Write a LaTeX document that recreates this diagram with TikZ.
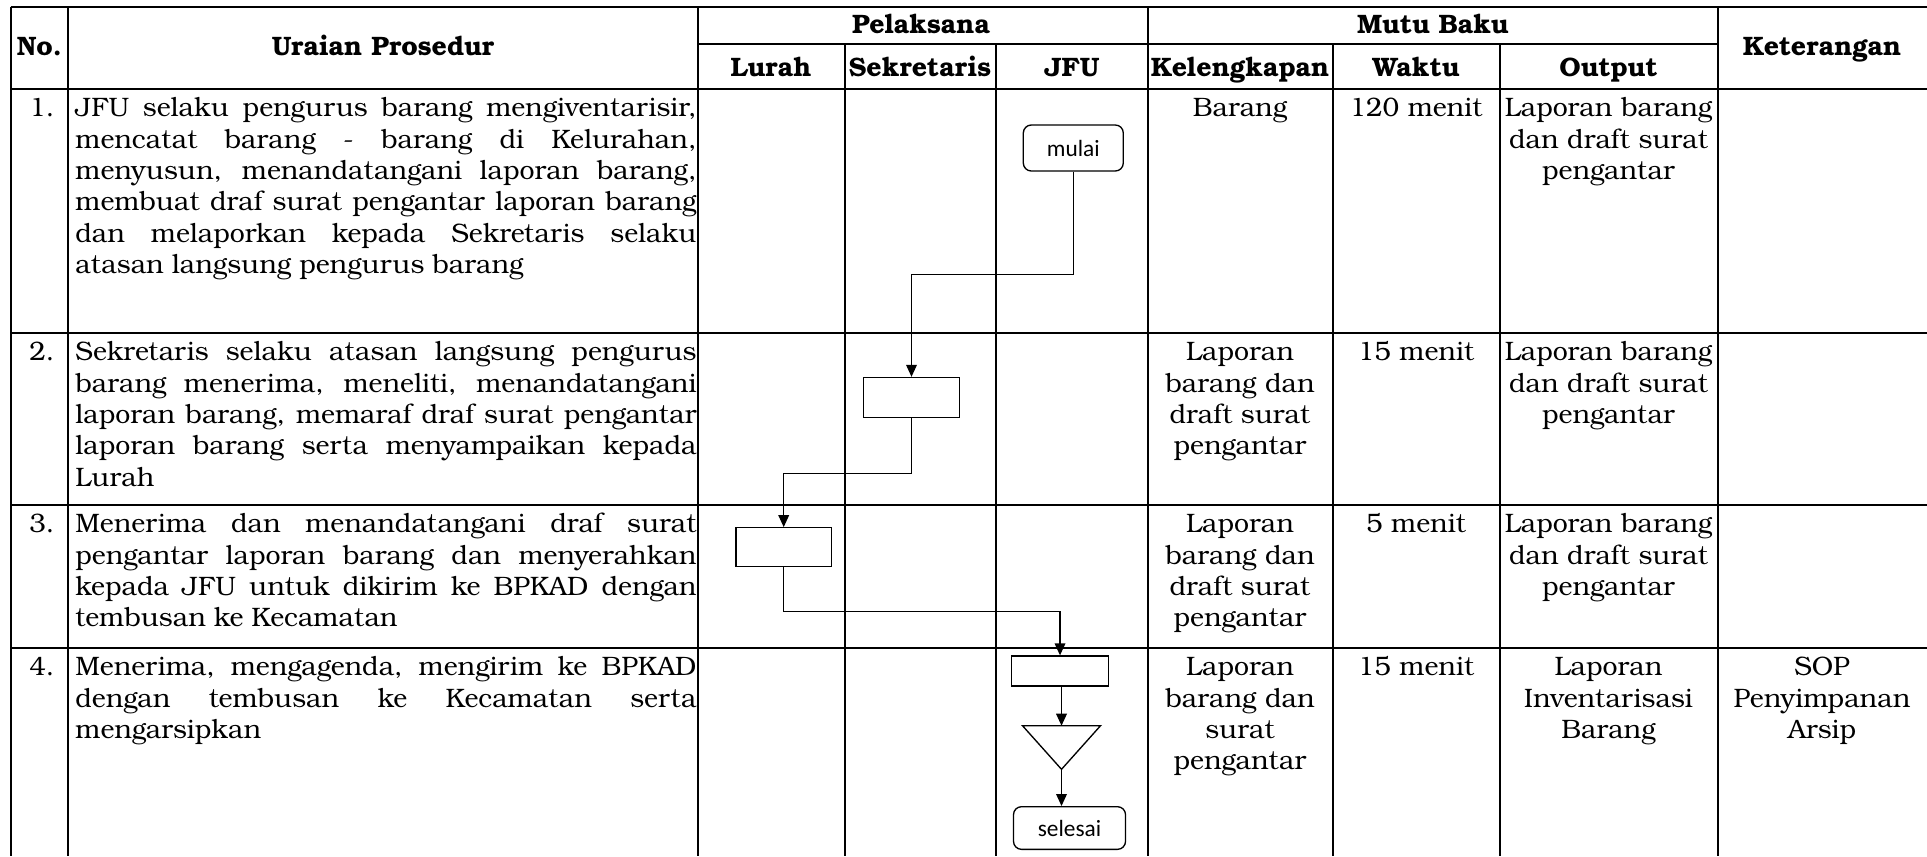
\documentclass[tikz,border=0pt]{standalone}
\usepackage{fontspec}
\setmainfont{TeX Gyre Bonum}
\newfontfamily\flowfont{Carlito}
\usetikzlibrary{arrows.meta}
\tikzstyle{gridline}=[line width=0.9pt]
\tikzstyle{flowline}=[line width=0.6pt]
\tikzstyle{flowarrow}=[flowline,-{Triangle[length=5.4pt,width=4.8pt]}]
\tikzstyle{headtext}=[font=\fontsize{12}{14.1}\selectfont\bfseries,inner sep=0pt,anchor=base]
\tikzstyle{celltext}=[font=\fontsize{12}{14.1}\selectfont,inner sep=0pt,anchor=north,align=center]
\tikzstyle{proctext}=[font=\fontsize{12}{14.1}\selectfont,inner sep=0pt,anchor=north west,text width=279.5pt,align=justify,
	execute at begin node={\hyphenpenalty=10000\relax\exhyphenpenalty=10000\relax\tolerance=10000\relax\spaceskip=.3em plus 1.5em minus .12em\relax}]
\tikzstyle{actbox}=[draw,flowline,minimum width=43.2pt,minimum height=18pt,inner sep=0pt]
\tikzstyle{termbox}=[draw,flowline,rounded corners=3.6pt,font=\flowfont\fontsize{10.5}{12}\selectfont,inner sep=0pt]

\begin{document}
\begin{tikzpicture}[x=0.45pt,y=-0.45pt]
	\useasboundingbox (0,0) rectangle (1927,856);
	\fill[white] (0,0) rectangle (1927,856);
		\draw[gridline] (10.5,7.3) -- (1927,7.3);
		\draw[gridline] (698,44.3) -- (1717.5,44.3);
		\draw[gridline] (10.5,89) -- (1927,89);
		\draw[gridline] (10.5,333) -- (1927,333);
		\draw[gridline] (10.5,505) -- (1927,505);
		\draw[gridline] (10.5,648) -- (1927,648);
		\draw[gridline] (10.5,7.3) -- (10.5,856);
		\draw[gridline] (68.3,7.3) -- (68.3,856);
		\draw[gridline] (698,7.3) -- (698,856);
		\draw[gridline] (844.5,44.3) -- (844.5,856);
		\draw[gridline] (996,44.3) -- (996,856);
		\draw[gridline] (1148,7.3) -- (1148,856);
		\draw[gridline] (1332.5,44.3) -- (1332.5,856);
		\draw[gridline] (1499.5,44.3) -- (1499.5,856);
		\draw[gridline] (1717.5,7.3) -- (1717.5,856);

		\node[headtext] (hno) at (39.4,55) {No.};
		\node[headtext] (huraian) at (383,55) {Uraian Prosedur};
		\node[headtext] (hpelaksana) at (921,33) {Pelaksana};
		\node[headtext] (hmutu) at (1432.7,33) {Mutu Baku};
		\node[headtext] (hket) at (1822,55) {Keterangan};
		\node[headtext] (hlurah) at (771,76) {Lurah};
		\node[headtext] (hsekr) at (920,76) {Sekretaris};
		\node[headtext] (hjfu) at (1072,76) {JFU};
		\node[headtext] (hkel) at (1240,76) {Kelengkapan};
		\node[headtext] (hwaktu) at (1416,76) {Waktu};
		\node[headtext] (houtput) at (1608.5,76) {Output};

		\node[celltext] (noa) at (42,94.6) {\strut 1.};
		\node[celltext] (nob) at (42,338.6) {\strut 2.};
		\node[celltext] (noc) at (42,510.6) {\strut 3.};
		\node[celltext] (nod) at (42,653.6) {\strut 4.};

		\node[proctext] (uraiana) at (75,94.6) {\strut JFU selaku pengurus barang mengiventarisir,\linebreak mencatat barang - barang di Kelurahan,\linebreak menyusun, menandatangani laporan barang,\linebreak membuat draf surat pengantar laporan barang\linebreak dan melaporkan kepada Sekretaris selaku\linebreak atasan langsung pengurus barang};
		\node[proctext] (uraianb) at (75,338.6) {\strut Sekretaris selaku atasan langsung pengurus\linebreak barang menerima, meneliti, menandatangani\linebreak laporan barang, memaraf draf surat pengantar\linebreak laporan barang serta menyampaikan kepada\linebreak Lurah};
		\node[proctext] (uraianc) at (75,510.6) {\strut Menerima dan menandatangani draf surat\linebreak pengantar laporan barang dan menyerahkan\linebreak kepada JFU untuk dikirim ke BPKAD dengan\linebreak tembusan ke Kecamatan};
		\node[proctext] (uraiand) at (75,653.6) {\strut Menerima, mengagenda, mengirim ke BPKAD\linebreak dengan tembusan ke Kecamatan serta\linebreak mengarsipkan};

		\node[celltext] (kela) at (1240,94.6) {\strut Barang};
		\node[celltext] (kelb) at (1240,338.6) {\strut Laporan\\barang dan\\draft surat\\pengantar};
		\node[celltext] (kelc) at (1240,510.6) {\strut Laporan\\barang dan\\draft surat\\pengantar};
		\node[celltext] (keld) at (1240,653.6) {\strut Laporan\\barang dan\\surat\\pengantar};

		\node[celltext] (waktua) at (1416,94.6) {\strut 120 menit};
		\node[celltext] (waktub) at (1416,338.6) {\strut 15 menit};
		\node[celltext] (waktuc) at (1416,510.6) {\strut 5 menit};
		\node[celltext] (waktud) at (1416,653.6) {\strut 15 menit};

		\node[celltext] (outa) at (1608.5,94.6) {\strut Laporan barang\\dan draft surat\\pengantar};
		\node[celltext] (outb) at (1608.5,338.6) {\strut Laporan barang\\dan draft surat\\pengantar};
		\node[celltext] (outc) at (1608.5,510.6) {\strut Laporan barang\\dan draft surat\\pengantar};
		\node[celltext] (outd) at (1608.5,653.6) {\strut Laporan\\Inventarisasi\\Barang};

		\node[celltext] (ketd) at (1822,653.6) {\strut SOP\\Penyimpanan\\Arsip};

		\node[termbox,minimum width=45pt,minimum height=20.7pt] (mulai) at (1073.3,148) {mulai};
		\node[actbox] (sekbox) at (911.5,397.5) {};
		\node[actbox,minimum width=42.8pt,minimum height=17.3pt] (lurahbox) at (783.7,547) {};
		\node[actbox,minimum width=43.5pt,minimum height=13.5pt] (jfubox) at (1060,671) {};
		\coordinate (tritop) at (1061.5,725.7);
		\coordinate (triapex) at (1061.5,769.3);
		\draw[flowline] (1022.5,725.7) -- (1100.5,725.7) -- (triapex) -- cycle;
		\node[termbox,minimum width=50.4pt,minimum height=19.2pt] (selesai) at (1069.5,828) {selesai};

		\draw[flowarrow] (mulai.south) -- ++(0,103) -| (sekbox.north);
		\draw[flowarrow] (sekbox.south) -- ++(0,55.2) -| (lurahbox.north);
		\draw[flowarrow] (lurahbox.south) -- ++(0,44.4) -| (jfubox.north);
		\draw[flowarrow] (jfubox.south -| tritop) -- (tritop);
		\draw[flowarrow] (triapex) -- (triapex |- selesai.north);
	\end{tikzpicture}
\end{document}
